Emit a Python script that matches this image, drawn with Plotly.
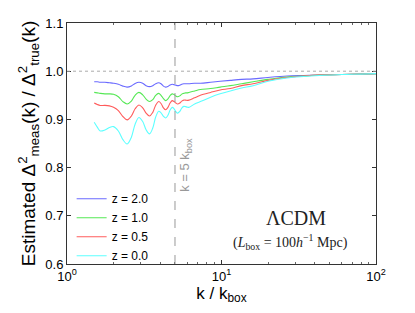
import plotly.graph_objects as go

k = [1.5, 1.57, 1.64, 1.76, 1.88, 2.0, 2.15, 2.3, 2.45, 2.61, 2.76, 2.92, 3.09, 3.25,
     3.42, 3.59, 3.75, 3.92, 4.06, 4.21, 4.35, 4.5, 4.65, 4.8, 4.93, 5.07, 5.2, 5.37,
     5.53, 5.7, 5.85, 6.0, 6.15, 6.7, 7.3, 8.5, 9.8, 11.4, 13.5, 16, 20, 26.5, 34,
     43, 60, 80, 100]

z20 = [0.978, 0.978, 0.977, 0.977, 0.976, 0.975, 0.973, 0.969, 0.967, 0.9695, 0.9745,
       0.977, 0.975, 0.970, 0.968, 0.970, 0.974, 0.976, 0.974, 0.969, 0.967, 0.9685,
       0.9715, 0.973, 0.972, 0.971, 0.970, 0.971, 0.973, 0.974, 0.974, 0.974, 0.974,
       0.975, 0.975, 0.977, 0.979, 0.981, 0.983, 0.984, 0.987, 0.990, 0.991, 0.992,
       0.993, 0.994, 0.995]
z10 = [0.956, 0.955, 0.954, 0.953, 0.953, 0.952, 0.947, 0.937, 0.932, 0.938, 0.950,
       0.956, 0.951, 0.942, 0.937, 0.941, 0.950, 0.954, 0.950, 0.943, 0.939, 0.9425,
       0.9495, 0.953, 0.9515, 0.9485, 0.947, 0.9488, 0.9525, 0.954, 0.955, 0.955,
       0.956, 0.959, 0.962, 0.964, 0.967, 0.970, 0.974, 0.978, 0.983, 0.988, 0.990,
       0.992, 0.993, 0.994, 0.995]
z05 = [0.934, 0.931, 0.929, 0.929, 0.928, 0.925, 0.918, 0.906, 0.899, 0.907, 0.922,
       0.930, 0.924, 0.913, 0.907, 0.9145, 0.9295, 0.937, 0.933, 0.924, 0.920, 0.925,
       0.934, 0.939, 0.937, 0.934, 0.932, 0.934, 0.938, 0.940, 0.940, 0.9395, 0.940,
       0.945, 0.950, 0.956, 0.961, 0.964, 0.970, 0.974, 0.981, 0.987, 0.990, 0.992,
       0.993, 0.994, 0.995]
z00 = [0.894, 0.884, 0.876, 0.878, 0.883, 0.885, 0.876, 0.858, 0.849, 0.863, 0.890,
       0.904, 0.8955, 0.8785, 0.870, 0.882, 0.905, 0.917, 0.9135, 0.9065, 0.903,
       0.9085, 0.9195, 0.925, 0.922, 0.916, 0.913, 0.9165, 0.9235, 0.927, 0.9265,
       0.9255, 0.925, 0.932, 0.937, 0.946, 0.953, 0.959, 0.965, 0.970, 0.979, 0.986,
       0.989, 0.991, 0.993, 0.994, 0.995]

series = [("z = 2.0", z20, "#6a6aff"),
          ("z = 1.0", z10, "#55e855"),
          ("z = 0.5", z05, "#ff5c5c"),
          ("z = 0.0", z00, "#5cffff")]

k_ref = 5
y_range = [0.6, 1.1]

fig = go.Figure()
for name, vals, col in series:
    fig.add_trace(go.Scatter(x=k, y=vals, mode="lines", name=name,
                             line=dict(color=col, width=1.1, shape="spline", smoothing=1.0)))

fig.add_shape(type="line", xref="paper", yref="y", x0=0, x1=1, y0=1.0, y1=1.0,
              line=dict(color="#aaaaaa", width=1, dash="dot"))
fig.add_shape(type="line", xref="x", yref="paper", x0=k_ref, x1=k_ref, y0=0, y1=1,
              line=dict(color="#999999", width=1, dash="dash"))

fig.add_annotation(x=0.768, y=0.805, xref="x", yref="y", text="k = 5 k<sub>box</sub>",
                   textangle=-90, showarrow=False,
                   font=dict(family="Liberation Sans, Arial", size=13, color="#999999"))
fig.add_annotation(x=1.48, y=0.695, xref="x", yref="y", text="ΛCDM", showarrow=False,
                   font=dict(family="Liberation Serif, serif", size=20, color="#222"))
fig.add_annotation(x=1.448, y=0.646, xref="x", yref="y",
                   text="(<i>L</i><sub>box</sub> = 100<i>h</i><sup>−1</sup> Mpc)",
                   showarrow=False,
                   font=dict(family="Liberation Serif, serif", size=14, color="#222"))

tickv = [1, 10, 100]
tickt = ["10<sup>0</sup>", "10<sup>1</sup>", "10<sup>2</sup>"]

fig.update_layout(
    width=415, height=313,
    margin=dict(l=67, r=39, t=23, b=49, autoexpand=False),
    paper_bgcolor="white", plot_bgcolor="white",
    font=dict(family="Liberation Sans, Arial", size=13, color="black"),
    showlegend=True,
    legend=dict(x=0.015, y=-0.026, xanchor="left", yanchor="bottom",
                bgcolor="rgba(0,0,0,0)", font=dict(size=12),
                tracegroupgap=0, itemwidth=30),
    xaxis=dict(type="log", range=[0, 2], tickvals=tickv, ticktext=tickt,
               ticks="inside", ticklen=4, tickcolor="#333", showgrid=False, zeroline=False,
               showline=True, linecolor="#333", mirror="ticks", automargin=False,
               minor=dict(ticks="inside", ticklen=2, tickcolor="#666", dtick="D1"),
               title=dict(text="k / k<sub>box</sub>", font=dict(size=17), standoff=2)),
    yaxis=dict(range=y_range, dtick=0.1, tickformat=".1f",
               ticks="inside", ticklen=4, tickcolor="#333", showgrid=False, zeroline=False,
               showline=True, linecolor="#333", mirror="ticks", automargin=False,
               title=dict(text="Estimated Δ<sup>2</sup><sub>meas</sub>(k) / Δ<sup>2</sup><sub>true</sub>(k)",
                          font=dict(size=19), standoff=4)),
)

fig.write_html("out.html", post_script="document.body.style.margin='0';",
               config={"displayModeBar": False})
